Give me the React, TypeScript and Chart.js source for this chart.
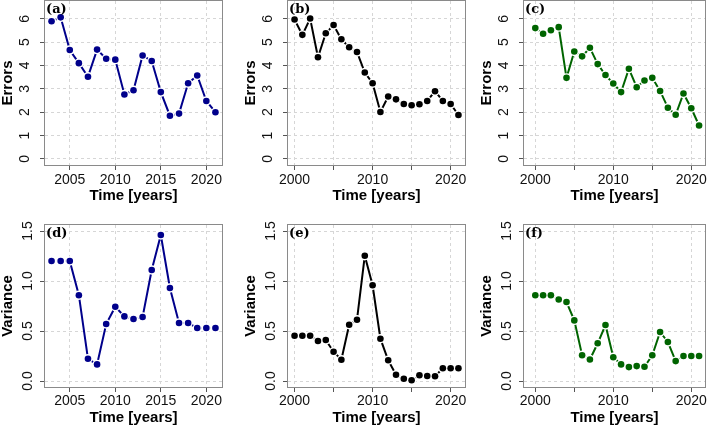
import React, { useEffect, useRef } from "react";
import { Chart, registerables } from "chart.js";

Chart.register(...registerables);

// ---------- data ----------
const yearsShort = [2003, 2004, 2005, 2006, 2007, 2008, 2009, 2010, 2011, 2012, 2013, 2014, 2015, 2016, 2017, 2018, 2019, 2020, 2021];
const yearsLong = [2000, 2001, 2002, 2003, 2004, 2005, 2006, 2007, 2008, 2009, 2010, 2011, 2012, 2013, 2014, 2015, 2016, 2017, 2018, 2019, 2020, 2021];

const errorsA = [5.89, 6.06, 4.66, 4.1, 3.52, 4.68, 4.29, 4.25, 2.76, 2.94, 4.43, 4.19, 2.86, 1.85, 1.94, 3.24, 3.57, 2.48, 2.0];
const errorsB = [5.97, 5.31, 6.01, 4.35, 5.38, 5.73, 5.12, 4.78, 4.58, 3.7, 3.24, 2.01, 2.67, 2.55, 2.35, 2.3, 2.34, 2.48, 2.9, 2.48, 2.35, 1.88];
const errorsC = [5.6, 5.36, 5.51, 5.64, 3.47, 4.6, 4.39, 4.76, 4.06, 3.59, 3.23, 2.86, 3.86, 3.07, 3.36, 3.47, 2.91, 2.19, 1.89, 2.8, 2.17, 1.43];
const varianceD = [1.2, 1.2, 1.2, 0.858, 0.222, 0.166, 0.57, 0.742, 0.646, 0.62, 0.64, 1.11, 1.46, 0.93, 0.58, 0.58, 0.53, 0.53, 0.53];
const varianceE = [0.453, 0.453, 0.453, 0.4, 0.41, 0.293, 0.213, 0.563, 0.613, 1.253, 0.957, 0.423, 0.207, 0.063, 0.023, 0.007, 0.057, 0.05, 0.047, 0.127, 0.127, 0.127];
const varianceF = [0.858, 0.858, 0.858, 0.815, 0.79, 0.606, 0.258, 0.215, 0.377, 0.56, 0.238, 0.166, 0.139, 0.149, 0.142, 0.258, 0.49, 0.39, 0.199, 0.25, 0.25, 0.25];

const xTicksShort = [2005, 2010, 2015, 2020];
const xTickLabelsShort = ["2005", "2010", "2015", "2020"];
const xTicksLong = [2000, 2005, 2010, 2015, 2020];
const xTickLabelsLong = ["2000", "", "2010", "", "2020"];
const errorTicks = [0, 1, 2, 3, 4, 5, 6];
const errorTickLabels = ["0", "1", "2", "3", "4", "5", "6"];
const varianceTicks = [0, 0.5, 1, 1.5];
const varianceTickLabels = ["0.0", "0.5", "1.0", "1.5"];

const xTitle = "Time [years]";
const errorsTitle = "Errors";
const varianceTitle = "Variance";

// ---------- styles / layout ----------
const BLUE = "#00008B";
const BLACK = "#000000";
const GREEN = "#006400";
const SANS = '"Liberation Sans", Arial, Helvetica, sans-serif';
const SERIF = '"DejaVu Serif", serif';

const Y_AXIS_W = 45;
const X_AXIS_H = 38;
const PAD_R = 6;

type PanelDef = {
  label: string;
  years: number[];
  values: number[];
  color: string;
  xTicks: number[];
  xLabels: string[];
  yTicks: number[];
  yLabels: string[];
  yTitle: string;
  xMin: number;
  xMax: number;
  yMin: number;
  yMax: number;
  L: number;
  R: number;
  T: number;
  B: number;
  padTop: number;
  yTickPad: number;
  xTickPad: number;
};

const panels: PanelDef[] = [
  { label: "(a)", years: yearsShort, values: errorsA, color: BLUE, xTicks: xTicksShort, xLabels: xTickLabelsShort, yTicks: errorTicks, yLabels: errorTickLabels, yTitle: errorsTitle, xMin: 2002.28, xMax: 2021.72, yMin: -0.26, yMax: 6.76, L: 45, R: 222, T: 1, B: 165, padTop: 1, yTickPad: 10.6, xTickPad: 1.6 },
  { label: "(b)", years: yearsLong, values: errorsB, color: BLACK, xTicks: xTicksLong, xLabels: xTickLabelsLong, yTicks: errorTicks, yLabels: errorTickLabels, yTitle: errorsTitle, xMin: 1999.16, xMax: 2021.84, yMin: -0.26, yMax: 6.76, L: 288, R: 465, T: 1, B: 165, padTop: 1, yTickPad: 10.6, xTickPad: 1.6 },
  { label: "(c)", years: yearsLong, values: errorsC, color: GREEN, xTicks: xTicksLong, xLabels: xTickLabelsLong, yTicks: errorTicks, yLabels: errorTickLabels, yTitle: errorsTitle, xMin: 1998.55, xMax: 2021.76, yMin: -0.26, yMax: 6.76, L: 524, R: 705, T: 1, B: 165, padTop: 1, yTickPad: 10.6, xTickPad: 1.6 },
  { label: "(d)", years: yearsShort, values: varianceD, color: BLUE, xTicks: xTicksShort, xLabels: xTickLabelsShort, yTicks: varianceTicks, yLabels: varianceTickLabels, yTitle: varianceTitle, xMin: 2002.28, xMax: 2021.72, yMin: -0.06, yMax: 1.56, L: 45, R: 222, T: 225, B: 387, padTop: 5, yTickPad: 2.3, xTickPad: 0.6 },
  { label: "(e)", years: yearsLong, values: varianceE, color: BLACK, xTicks: xTicksLong, xLabels: xTickLabelsLong, yTicks: varianceTicks, yLabels: varianceTickLabels, yTitle: varianceTitle, xMin: 1999.16, xMax: 2021.84, yMin: -0.06, yMax: 1.56, L: 288, R: 465, T: 225, B: 387, padTop: 5, yTickPad: 2.3, xTickPad: 0.6 },
  { label: "(f)", years: yearsLong, values: varianceF, color: GREEN, xTicks: xTicksLong, xLabels: xTickLabelsLong, yTicks: varianceTicks, yLabels: varianceTickLabels, yTitle: varianceTitle, xMin: 1998.55, xMax: 2021.76, yMin: -0.06, yMax: 1.56, L: 524, R: 705, T: 225, B: 387, padTop: 5, yTickPad: 2.3, xTickPad: 0.6 },
];

function Panel({ p }: { p: PanelDef }) {
  const ref = useRef<HTMLCanvasElement | null>(null);
  const width = p.R - p.L + Y_AXIS_W + PAD_R;
  const height = p.B - p.T + p.padTop + X_AXIS_H;

  useEffect(() => {
    if (!ref.current) return;
    const pts = p.years.map((x, i) => ({ x, y: p.values[i] }));

    const framePlugin = {
      id: "frame",
      beforeDatasetsDraw(chart: any) {
        const { ctx, chartArea } = chart;
        const { left, top, right, bottom } = chartArea;
        ctx.save();
        ctx.strokeStyle = "#8a8a8a";
        ctx.lineWidth = 1;
        ctx.strokeRect(left - 0.5, top - 0.5, right - left + 1, bottom - top + 1);
        ctx.restore();
      },
      afterDatasetsDraw(chart: any) {
        const { ctx, chartArea } = chart;
        ctx.save();
        ctx.fillStyle = "#000";
        ctx.font = `bold 13px ${SERIF}`;
        ctx.textBaseline = "alphabetic";
        ctx.textAlign = "left";
        ctx.fillText(p.label, chartArea.left + 1, chartArea.top + 12);
        ctx.restore();
      },
    };

    const fitX = (scale: any) => {
      scale.height = X_AXIS_H;
      scale.paddingLeft = 0;
      scale.paddingRight = 0;
      scale.paddingTop = 0;
      scale.paddingBottom = 0;
    };
    const fitY = (scale: any) => {
      scale.width = Y_AXIS_W;
      scale.paddingLeft = 0;
      scale.paddingRight = 0;
      scale.paddingTop = 0;
      scale.paddingBottom = 0;
    };

    const chart = new Chart(ref.current, {
      type: "line",
      data: {
        datasets: [
          { data: pts, borderColor: p.color, borderWidth: 2, pointRadius: 0, pointHoverRadius: 0, tension: 0, fill: false, order: 3 } as any,
          { data: pts, showLine: false, pointRadius: 4.7, pointHoverRadius: 4.7, pointBackgroundColor: "#ffffff", pointBorderWidth: 0, order: 2 } as any,
          { data: pts, showLine: false, pointRadius: 3.3, pointHoverRadius: 3.3, pointBackgroundColor: p.color, pointBorderWidth: 0, order: 1 } as any,
        ],
      },
      options: {
        animation: false,
        responsive: false,
        events: [],
        layout: { autoPadding: false, padding: { top: p.padTop, right: PAD_R, left: 0, bottom: 0 } },
        plugins: { legend: { display: false }, tooltip: { enabled: false }, title: { display: false } },
        scales: {
          x: {
            type: "linear",
            min: p.xMin,
            max: p.xMax,
            afterBuildTicks: (scale: any) => {
              scale.ticks = p.xTicks.map((v) => ({ value: v }));
            },
            afterFit: fitX,
            ticks: {
              autoSkip: false,
              maxRotation: 0,
              minRotation: 0,
              padding: p.xTickPad,
              color: "#111",
              font: { family: SANS, size: 14 },
              callback: (v: any) => {
                const i = p.xTicks.indexOf(Number(v));
                return i >= 0 ? p.xLabels[i] : "";
              },
            },
            grid: { color: "#d6d6d6", lineWidth: 1, drawTicks: true, tickLength: 5, tickColor: "#555", tickWidth: 1, tickBorderDash: [] },
            border: { display: false, dash: [3, 3] },
            title: { display: true, text: xTitle, color: "#000", font: { family: SANS, size: 15, weight: "bold", lineHeight: 1 }, padding: { top: 0, bottom: 0 } },
          },
          y: {
            type: "linear",
            min: p.yMin,
            max: p.yMax,
            afterBuildTicks: (scale: any) => {
              scale.ticks = p.yTicks.map((v) => ({ value: v }));
            },
            afterFit: fitY,
            ticks: {
              autoSkip: false,
              minRotation: 90,
              maxRotation: 90,
              crossAlign: "center",
              padding: p.yTickPad,
              color: "#111",
              font: { family: SANS, size: 14 },
              callback: (v: any) => {
                const i = p.yTicks.indexOf(Number(v));
                return i >= 0 ? p.yLabels[i] : "";
              },
            },
            grid: { color: "#d6d6d6", lineWidth: 1, drawTicks: true, tickLength: 5, tickColor: "#555", tickWidth: 1, tickBorderDash: [] },
            border: { display: false, dash: [3, 3] },
            title: { display: true, text: p.yTitle, color: "#000", font: { family: SANS, size: 15, weight: "bold", lineHeight: 1 }, padding: { top: 0, bottom: 0 } },
          },
        },
      } as any,
      plugins: [framePlugin],
    });
    return () => chart.destroy();
  }, [p]);

  return (
    <canvas
      ref={ref}
      width={width}
      height={height}
      style={{ position: "absolute", left: p.L - Y_AXIS_W, top: p.T - p.padTop, width, height }}
    />
  );
}

export default function App() {
  return (
    <div style={{ position: "fixed", left: 0, top: 0, width: 708, height: 428, background: "#ffffff", overflow: "hidden" }}>
      {panels.map((p) => (
        <Panel key={p.label} p={p} />
      ))}
    </div>
  );
}
